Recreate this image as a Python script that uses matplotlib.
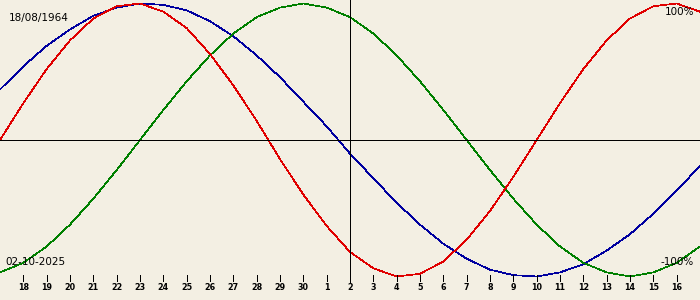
"""
Biorhythm chart: 30 days around 02-10-2025 for someone born 18/08/1964.
"""

import matplotlib
matplotlib.use("Agg")
import matplotlib.pyplot as plt

BIRTH = "18/08/1964"
TODAY = "02-10-2025"

# day offsets from today, 17 Sep .. 17 Oct
offsets = list(range(-15, 16))
day_labels = ["17", "18", "19", "20", "21", "22", "23", "24", "25", "26", "27", "28",
              "29", "30", "1", "2", "3", "4", "5", "6", "7", "8", "9", "10", "11",
              "12", "13", "14", "15", "16", "17"]

# values, one per day (-1 .. 1)
physical = [0.0, 0.27, 0.52, 0.73, 0.89, 0.98, 1.0, 0.94, 0.82, 0.63, 0.40, 0.14,
            -0.14, -0.40, -0.63, -0.82, -0.94, -1.0, -0.98, -0.89, -0.73, -0.52,
            -0.27, 0.0, 0.27, 0.52, 0.73, 0.89, 0.98, 1.0, 0.94]
emotional = [-0.97, -0.90, -0.78, -0.62, -0.43, -0.22, 0.0, 0.22, 0.43, 0.62, 0.78,
             0.90, 0.97, 1.0, 0.97, 0.90, 0.78, 0.62, 0.43, 0.22, 0.0, -0.22, -0.43,
             -0.62, -0.78, -0.90, -0.97, -1.0, -0.97, -0.90, -0.78]
intellectual = [0.37, 0.54, 0.69, 0.81, 0.91, 0.97, 1.0, 0.99, 0.95, 0.87, 0.76, 0.62,
                0.46, 0.28, 0.10, -0.10, -0.28, -0.46, -0.62, -0.76, -0.87, -0.95,
                -0.99, -1.0, -0.97, -0.91, -0.81, -0.69, -0.54, -0.37, -0.19]

BG = "#f3efe3"
LW = 0.72  # one pixel at 100 dpi
CURVE_LW = 0.5

fig = plt.figure(figsize=(7, 3), dpi=100, facecolor=BG)
ax = fig.add_axes([0, 0, 1, 1], facecolor=BG)
ax.set_xlim(-15, 15)
ax.set_ylim(-160 / 136.5, 140 / 136.5)
ax.axis("off")

ax.plot(offsets, intellectual, color="#0000a0", lw=CURVE_LW, antialiased=False)
ax.plot(offsets, emotional, color="#008000", lw=CURVE_LW, antialiased=False)
ax.plot(offsets, physical, color="#e00000", lw=CURVE_LW, antialiased=False)

# zero line and today marker
ax.axhline(0, color="black", lw=LW, antialiased=False)
ax.axvline(0, ymin=0.06, ymax=1, color="black", lw=LW, antialiased=False)

# day ticks along the bottom
tr = ax.get_xaxis_transform()
for off, lab in zip(offsets, day_labels):
    if abs(off) == 15:
        continue
    if off != 0:
        ax.plot([off, off], [0.063, 0.083], color="black", lw=LW,
                transform=tr, antialiased=False)
    ax.text(off, 0.04, lab, transform=tr, ha="center", va="center",
            fontsize=5.8, fontweight="bold", color="black")

# corner labels (display pixels, origin bottom-left)
ax.text(9, 282, BIRTH, transform=None, fontsize=7.5, va="center", ha="left")
ax.text(5, 38, TODAY, transform=None, fontsize=7.5, va="center", ha="left")
ax.text(694, 288, "100%", transform=None, fontsize=7.5, va="center", ha="right")
ax.text(694, 38, "-100%", transform=None, fontsize=7.5, va="center", ha="right")

fig.savefig("out.png", dpi=100, facecolor=BG)
